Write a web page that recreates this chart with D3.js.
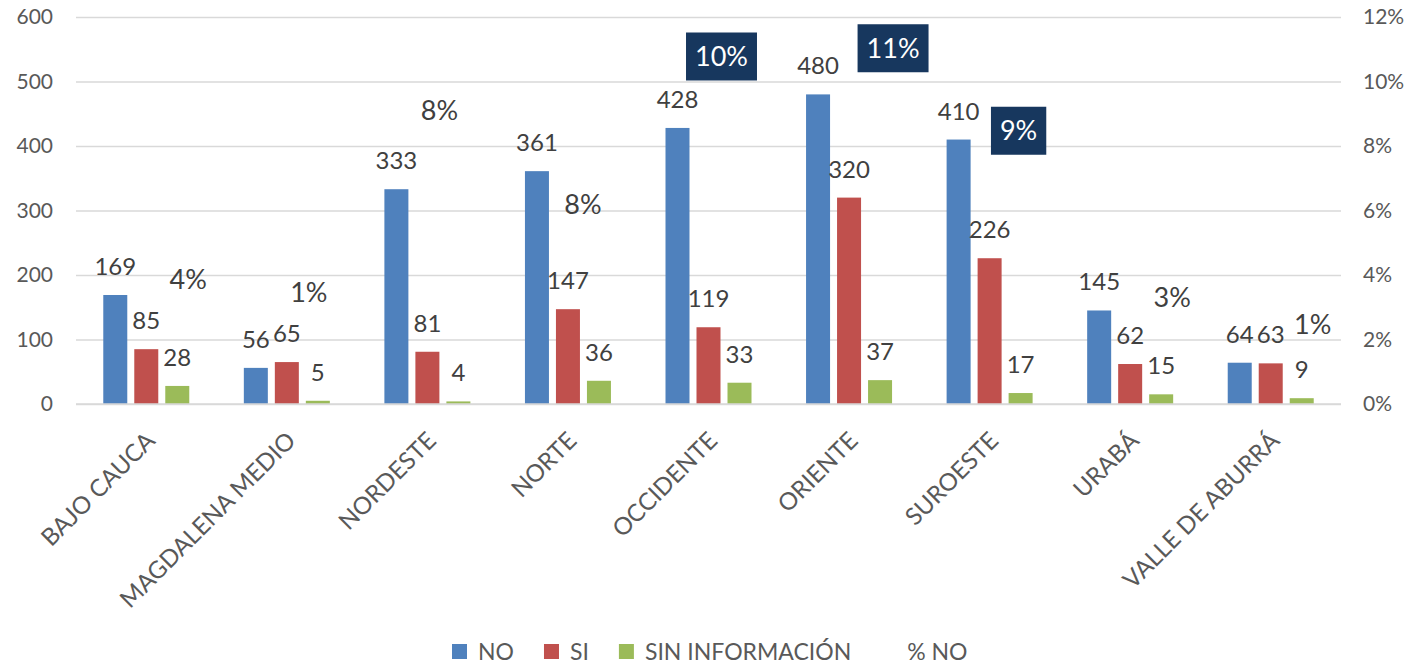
<!DOCTYPE html>
<html>
<head>
<meta charset="utf-8">
<script src="https://cdn.jsdelivr.net/npm/d3@7"></script>
<style>
  body { margin: 0; background: #fff; }
  svg { display: block; font-family: Lato, "Open Sans", sans-serif; }
</style>
</head>
<body>
<div id="chart"></div>
<script>
// Regions and series
const regions = ['BAJO CAUCA', 'MAGDALENA MEDIO', 'NORDESTE', 'NORTE', 'OCCIDENTE',
  'ORIENTE', 'SUROESTE', 'URABÁ', 'VALLE DE ABURRÁ'];
const seriesNames = ['NO', 'SI', 'SIN INFORMACIÓN'];
const noValues = [169, 56, 333, 361, 428, 480, 410, 145, 64];
const siValues = [85, 65, 81, 147, 119, 320, 226, 62, 63];
const sinInfoValues = [28, 5, 4, 36, 33, 37, 17, 15, 9];
const pctNo = [0.04, 0.01, 0.08, 0.08, 0.10, 0.11, 0.09, 0.03, 0.01];
const leftTicks = [0, 100, 200, 300, 400, 500, 600];
const rightTicks = [0, 0.02, 0.04, 0.06, 0.08, 0.10, 0.12];

// label nudges for the % NO labels, moved by hand in the original [dx, dy]
const pctLabelNudge = [[42, 4], [22, -79], [12, -36], [15, 58], [13, -25],
  [44, -1], [29, 17], [42, -10], [42, -47]];

const colors = { 'NO': '#4F81BD', 'SI': '#C0504D', 'SIN INFORMACIÓN': '#9BBB59' };

const width = 1423, height = 668;
const margin = { top: 17, right: 82, bottom: 264, left: 76 };
const innerW = width - margin.left - margin.right;
const innerH = height - margin.top - margin.bottom;

const rows = regions.map((r, i) => ({
  region: r,
  'NO': noValues[i],
  'SI': siValues[i],
  'SIN INFORMACIÓN': sinInfoValues[i],
  pct: pctNo[i],
  nudge: pctLabelNudge[i]
}));

const svg = d3.select('#chart').append('svg')
  .attr('width', width)
  .attr('height', height);

const g = svg.append('g')
  .attr('transform', `translate(${margin.left},${margin.top})`);

const x0 = d3.scaleBand().domain(regions).range([0, innerW]);
const x1 = d3.scaleBand().domain(seriesNames).range([-43, 43]).paddingInner(7 / 31);
const y = d3.scaleLinear().domain([0, 600]).range([innerH, 0]);
const yR = d3.scaleLinear().domain([0, 0.12]).range([innerH, 0]);

// gridlines
g.append('g')
  .call(d3.axisLeft(y).tickValues(leftTicks).tickSize(-innerW).tickFormat(''))
  .call(a => a.select('.domain').remove())
  .call(a => a.selectAll('line').attr('stroke', '#D9D9D9').attr('stroke-width', 1.5));

// left axis labels
g.append('g')
  .call(d3.axisLeft(y).tickValues(leftTicks).tickSize(0).tickPadding(23))
  .call(a => a.select('.domain').remove())
  .call(a => a.selectAll('text').attr('fill', '#595959').attr('font-size', 21)
    .attr('font-family', 'Lato, sans-serif'));

// right axis labels
g.append('g')
  .attr('transform', `translate(${innerW},0)`)
  .call(d3.axisRight(yR).tickValues(rightTicks).tickSize(0).tickPadding(22)
    .tickFormat(d3.format('.0%')))
  .call(a => a.select('.domain').remove())
  .call(a => a.selectAll('text').attr('fill', '#595959').attr('font-size', 21)
    .attr('font-family', 'Lato, sans-serif'));

// bars
const groups = g.selectAll('.region')
  .data(rows)
  .join('g')
  .attr('class', 'region')
  .attr('transform', d => `translate(${x0(d.region) + x0.bandwidth() / 2},0)`);

const cells = groups.selectAll('.cell')
  .data(d => seriesNames.map(k => ({ key: k, value: d[k] })))
  .join('g')
  .attr('class', 'cell');

cells.append('rect')
  .attr('x', d => x1(d.key))
  .attr('y', d => y(d.value))
  .attr('width', x1.bandwidth())
  .attr('height', d => innerH - y(d.value))
  .attr('fill', d => colors[d.key]);

cells.append('text')
  .attr('x', d => x1(d.key) + x1.bandwidth() / 2)
  .attr('y', d => y(d.value) - 20)
  .attr('text-anchor', 'middle')
  .attr('font-size', 24)
  .attr('fill', '#404040')
  .text(d => d.value);

// x axis line
g.append('line')
  .attr('x1', 0).attr('x2', innerW)
  .attr('y1', innerH).attr('y2', innerH)
  .attr('stroke', '#D9D9D9').attr('stroke-width', 1.5);

// category labels
g.append('g')
  .attr('transform', `translate(0,${innerH})`)
  .selectAll('text')
  .data(regions)
  .join('text')
  .attr('transform', d => `translate(${x0(d) + x0.bandwidth() / 2 - 2},26) rotate(-45)`)
  .attr('text-anchor', 'end')
  .attr('dy', '0.72em')
  .attr('font-size', 24)
  .attr('fill', '#595959')
  .text(d => d);

// % NO labels (the line itself is hidden in the original)
const top3 = pctNo.slice().sort((a, b) => b - a)[2];
const pctFmt = d3.format('.0%');
const pctLabels = g.append('g').selectAll('g')
  .data(rows)
  .join('g')
  .attr('transform', d => `translate(${x0(d.region) + x0.bandwidth() / 2 + d.nudge[0]},${yR(d.pct) + d.nudge[1]})`);

pctLabels.append('text')
  .attr('text-anchor', 'middle')
  .attr('dy', '0.36em')
  .attr('font-size', 27)
  .attr('fill', d => d.pct >= top3 ? '#fff' : '#404040')
  .text(d => pctFmt(d.pct));

pctLabels.filter(d => d.pct >= top3).insert('rect', 'text')
  .each(function() {
    const t = d3.select(this.parentNode).select('text').node().getComputedTextLength();
    d3.select(this)
      .attr('x', -t / 2 - 9).attr('width', t + 18)
      .attr('y', -24).attr('height', 48);
  })
  .attr('fill', '#17375E');

// legend
const legendItems = seriesNames.concat(['% NO']);
const legend = svg.append('g');
let lx = 0;
const li = legend.selectAll('g')
  .data(legendItems)
  .join('g');
li.append('text')
  .attr('x', 26)
  .attr('dy', '0.36em')
  .attr('font-size', 23)
  .attr('fill', '#595959')
  .text(d => d);
li.filter(d => colors[d]).append('rect')
  .attr('x', 0).attr('y', -8)
  .attr('width', 15).attr('height', 15)
  .attr('fill', d => colors[d]);
li.each(function() {
  const w = d3.select(this).select('text').node().getComputedTextLength();
  d3.select(this).attr('transform', `translate(${lx},0)`);
  lx += 26 + w + 30;
});
legend.attr('transform', `translate(452,652)`);
</script>
</body>
</html>
